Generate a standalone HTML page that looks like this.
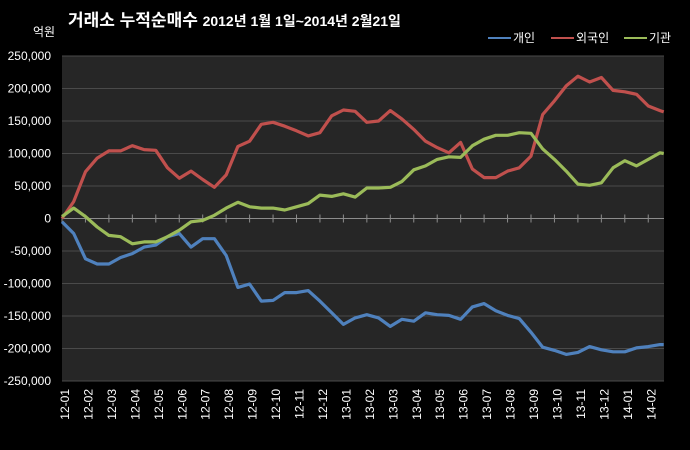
<!DOCTYPE html>
<html><head><meta charset="utf-8"><style>
html,body{margin:0;padding:0;background:#000;}
svg{display:block;}
text{font-family:"Liberation Sans","Noto Sans CJK KR",sans-serif;fill:#fff;}
</style></head><body>
<svg id="chart" width="690" height="450">
<rect width="690" height="450" fill="#000"/>
<text x="68" y="26" font-size="17" font-weight="bold">거래소 누적순매수 <tspan font-size="14">2012년 1월 1일~2014년 2월21일</tspan></text>
<text x="33" y="36" font-size="12">억원</text>
<g>
<g><line x1="488" y1="38" x2="511" y2="38" stroke="#4f81bd" stroke-width="2"/><text x="513" y="42" font-size="12">개인</text></g>
<g><line x1="551" y1="38" x2="574" y2="38" stroke="#c0504d" stroke-width="2"/><text x="576" y="42" font-size="12">외국인</text></g>
<g><line x1="624" y1="38" x2="647" y2="38" stroke="#9bbb59" stroke-width="2"/><text x="649" y="42" font-size="12">기관</text></g>
</g>
<rect x="62" y="56" width="602" height="325" fill="#262626"/>
<g id="grid"></g><g id="axes"></g><g id="series"></g>
</svg>
<script>
const months = ["12-01","12-02","12-03","12-04","12-05","12-06","12-07","12-08","12-09","12-10","12-11","12-12","13-01","13-02","13-03","13-04","13-05","13-06","13-07","13-08","13-09","13-10","13-11","13-12","14-01","14-02"];
const yTicks = [250000,200000,150000,100000,50000,0,-50000,-100000,-150000,-200000,-250000];
const times = [0,0.5,1,1.5,2,2.5,3,3.5,4,4.5,5,5.5,6,6.5,7,7.5,8,8.5,9,9.5,10,10.5,11,11.5,12,12.5,13,13.5,14,14.5,15,15.5,16,16.5,17,17.5,18,18.5,19,19.5,20,20.5,21,21.5,22,22.5,23,23.5,24,24.5,25,25.5,25.66];
const individual = [-5,-23,-62,-70,-70,-60,-54,-44,-41,-28,-23,-44,-31,-31,-57,-106,-101,-127,-126,-114,-114,-111,-127,-145,-163,-153,-148,-153,-166,-155,-158,-145,-148,-149,-155,-136,-131,-142,-149,-154,-175,-198,-203,-209,-206,-197,-202,-205,-205,-199,-197,-194,-194];
const foreign = [0,26,72,93,104,104,112,106,105,78,62,73,60,48,67,111,119,145,148,142,135,127,132,158,167,165,148,150,166,153,137,119,109,101,117,76,63,63,73,78,96,160,181,204,219,210,217,197,195,191,173,166,164];
const institution = [3,16,3,-13,-26,-28,-39,-36,-36,-28,-18,-5,-3,5,16,25,18,16,16,13,18,23,36,34,38,33,47,47,48,57,75,81,91,95,94,112,122,128,128,132,131,107,91,73,53,51,55,78,89,81,91,101,100];

const NS="http://www.w3.org/2000/svg";
const L=62,R=664,T=56,B=381,MW=23.45;
const xS=t=>L+t*MW;
const yS=v=>T+(250000-v)/500000*(B-T);
const grid=document.getElementById('grid'),axes=document.getElementById('axes'),ser=document.getElementById('series');
function mk(tag,attrs,parent){const e=document.createElementNS(NS,tag);for(const k in attrs)e.setAttribute(k,attrs[k]);parent.appendChild(e);return e;}
yTicks.forEach(v=>{
  if(v!==0){const g=mk('line',{x1:L,x2:R,y1:yS(v),y2:yS(v),stroke:'#4a4a4a','stroke-width':1},grid);
  
  }
  const t=mk('text',{x:51,y:yS(v)+4,'font-size':12,'text-anchor':'end'},axes);
  t.textContent=v.toLocaleString('en-US');
  
  
});
const z=mk('line',{x1:L,x2:R,y1:yS(0),y2:yS(0),stroke:'#8c8c8c','stroke-width':1},axes);


months.forEach((m,i)=>{
  const tk=mk('line',{x1:xS(i),x2:xS(i),y1:yS(0)-4,y2:yS(0)+4,stroke:'#8c8c8c','stroke-width':1},axes);
  
  
  const x=xS(i)+3;
  const t=mk('text',{x:0,y:0,'font-size':12,'text-anchor':'end',transform:`translate(${x+4},389) rotate(-90)`},axes);
  t.textContent=m;
  
  
});
function line(vals,color,name){
  const d=vals.map((v,i)=>(i?'L':'M')+xS(times[i]).toFixed(1)+','+yS(v*1000).toFixed(1)).join(' ');
  const p=mk('path',{d:d,fill:'none',stroke:color,'stroke-width':3.2,'stroke-linejoin':'round'},ser);
  
  
}
line(individual,'#4f81bd','series-individual');
line(foreign,'#c0504d','series-foreign');
line(institution,'#9bbb59','series-institution');
</script>
</body></html>
